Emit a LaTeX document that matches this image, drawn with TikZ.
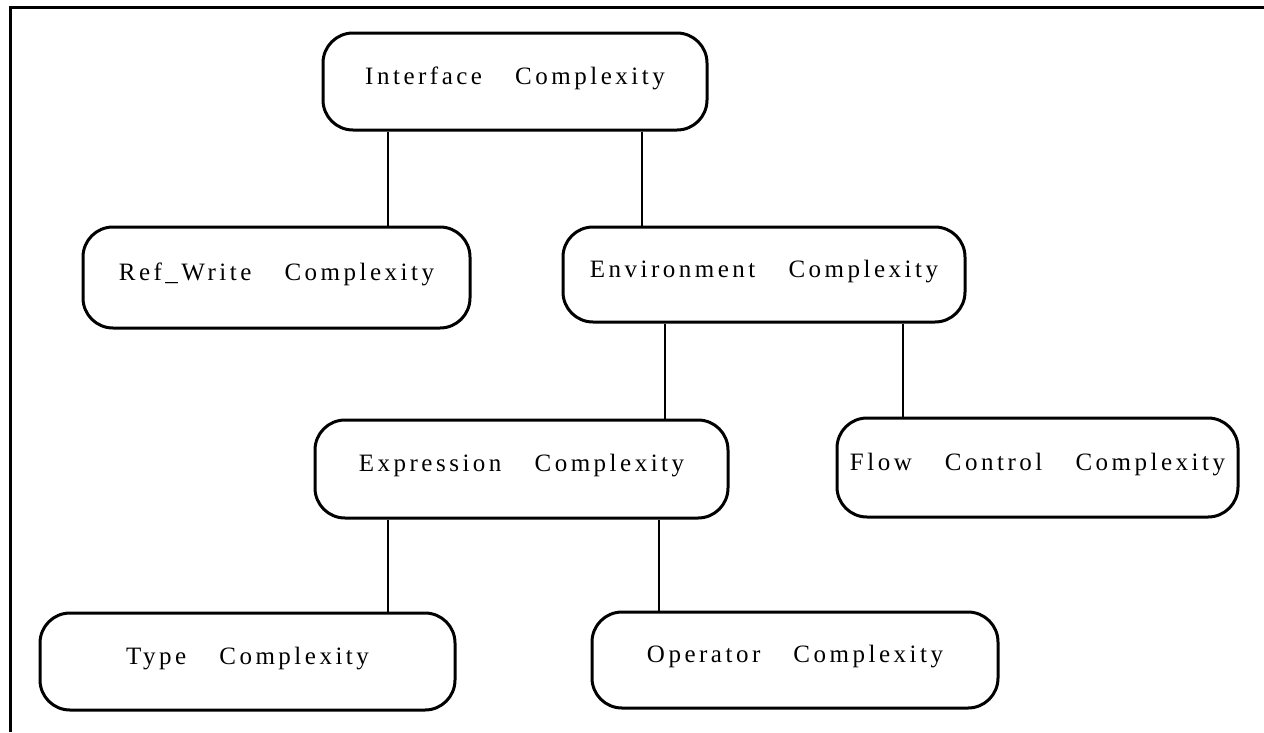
\documentclass[tikz,border=0pt]{standalone}
\usepackage{fontspec}
\newfontfamily\boxfont[LetterSpace=14,WordSpace=3.4]{Liberation Serif}
\begin{document}
\begin{tikzpicture}[x=1pt,y=-1pt,
  box/.style={draw,line width=3pt,rounded corners=30pt,inner xsep=4pt,
    font=\boxfont\fontsize{25}{29}\selectfont,text height=17pt,text depth=12pt},
  link/.style={line width=2pt}]
\useasboundingbox (0,0) rectangle (1264,732);
\draw[line width=3pt] (10,732) -- (10,7) -- (1264,7);
\node[box,minimum width=384pt,minimum height=97pt] (iface) at (515,81.5) {Interface Complexity};
\node[box,minimum width=387pt,minimum height=101pt] (refw) at (276.5,277.5) {Ref\_Write Complexity};
\node[box,minimum width=402pt,minimum height=95pt] (env) at (764,274.5) {Environment Complexity};
\node[box,minimum width=413pt,minimum height=98pt] (expr) at (521.5,469) {Expression Complexity};
\node[box,minimum width=401pt,minimum height=99pt] (flow) at (1037.5,467.5) {Flow Control Complexity};
\node[box,minimum width=415pt,minimum height=97pt] (type) at (247.5,661.5) {Type Complexity};
\node[box,minimum width=406pt,minimum height=96pt] (oper) at (795,660) {Operator Complexity};
\draw[link] ([xshift=-127pt]iface.south) -- ([xshift=111.5pt]refw.north);
\draw[link] ([xshift=127pt]iface.south) -- ([xshift=-122pt]env.north);
\draw[link] ([xshift=-99pt]env.south) -- ([xshift=143.5pt]expr.north);
\draw[link] ([xshift=139pt]env.south) -- ([xshift=-134.5pt]flow.north);
\draw[link] ([xshift=-133.5pt]expr.south) -- ([xshift=140.5pt]type.north);
\draw[link] ([xshift=137pt]expr.south) -- ([xshift=-136.5pt]oper.north);
\end{tikzpicture}
\end{document}
